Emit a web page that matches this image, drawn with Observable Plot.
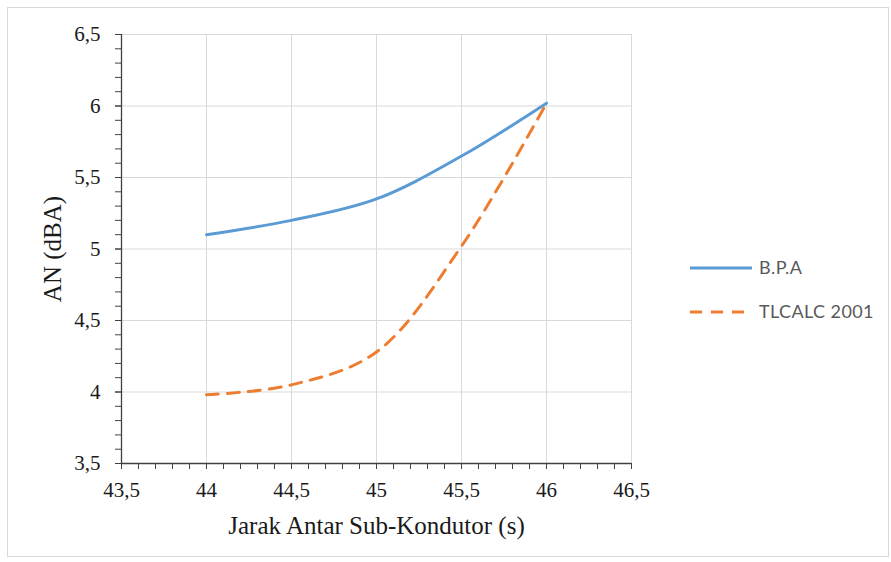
<!DOCTYPE html>
<html>
<head>
<meta charset="utf-8">
<script src="https://cdn.jsdelivr.net/npm/d3@7"></script>
<script src="https://cdn.jsdelivr.net/npm/@observablehq/plot@0.6"></script>
<style>
  body { margin: 0; background: #fff; }
  #wrap { position: relative; width: 891px; height: 562px; overflow: hidden; }
  #frame { position: absolute; left: 7px; top: 7px; width: 882px; height: 550px; border: 1px solid #d9d9d9; box-sizing: border-box; pointer-events: none; }
  #chart svg, #chart svg text { font-family: "Liberation Serif", "Times New Roman", serif !important; }
  #chart svg text { font-size: 21px !important; fill: #1a1a1a; }
  #chart svg g[aria-label="x-axis label"] text,
  #chart svg g[aria-label="y-axis label"] text { font-size: 25px !important; fill: #1a1a1a; }
  #legend { position: absolute; left: 689px; top: 256px; font-family: Lato, "Open Sans", sans-serif; font-size: 18px; letter-spacing: 0.4px; color: #595959; white-space: nowrap; }
  .row { position: relative; height: 44px; }
  .row svg { position: absolute; left: 0; top: 3px; }
  .row span { position: absolute; left: 70px; top: 0px; line-height: 22px; }
</style>
</head>
<body>
<div id="wrap">
  <div id="chart"></div>
  <div id="frame"></div>
  <div id="legend"></div>
</div>
<script>
// ---- data ----
const xValues = [44, 44.5, 45, 45.5, 46];
const bpaValues = [5.10, 5.20, 5.35, 5.65, 6.02];
const tlcalcValues = [3.98, 4.05, 4.28, 5.02, 6.02];
const seriesNames = ["B.P.A", "TLCALC 2001"];
const seriesColors = ["#5B9BD5", "#ED7D31"];
const xMajorTicks = [43.5, 44, 44.5, 45, 45.5, 46, 46.5];
const yMajorTicks = [3.5, 4, 4.5, 5, 5.5, 6, 6.5];
const xMinorTicks = d3.range(435, 466).map(d => d / 10);
const yMinorTicks = d3.range(35, 66).map(d => d / 10);
const xLabel = "Jarak Antar Sub-Kondutor (s)";
const yLabel = "AN (dBA)";

const bpaRows = xValues.map((x, i) => ({x, y: bpaValues[i]}));
const tlRows = xValues.map((x, i) => ({x, y: tlcalcValues[i]}));
const fmt = d => String(d).replace(".", ",");
const axisColor = "#404040";
const serif = "'Liberation Serif', 'Times New Roman', serif";

const chart = Plot.plot({
  width: 891,
  height: 562,
  marginLeft: 121,
  marginRight: 260,
  marginTop: 34,
  marginBottom: 99,
  x: {domain: [43.5, 46.5]},
  y: {domain: [3.5, 6.5]},
  style: {fontSize: "21px", fontFamily: serif, color: "#1a1a1a", background: "transparent"},
  marks: [
    Plot.gridX(xMajorTicks, {stroke: "#d9d9d9", strokeOpacity: 1}),
    Plot.gridY(yMajorTicks, {stroke: "#d9d9d9", strokeOpacity: 1}),
    Plot.axisX(xMinorTicks, {tickSize: 6, tickFormat: () => "", label: null, stroke: axisColor}),
    Plot.axisY(yMinorTicks, {tickSize: 6, tickFormat: () => "", label: null, stroke: axisColor}),
    Plot.axisX(xMajorTicks, {tickSize: 6, tickPadding: 13, tickFormat: fmt, stroke: axisColor,
      fontSize: 21, fontFamily: serif,
      label: xLabel, labelAnchor: "center", labelArrow: "none", labelOffset: 70}),
    Plot.axisY(yMajorTicks, {tickSize: 6, tickPadding: 15, tickFormat: fmt, stroke: axisColor,
      fontSize: 21, fontFamily: serif,
      label: yLabel, labelAnchor: "center", labelArrow: "none", labelOffset: 78}),
    Plot.ruleX([43.5], {stroke: axisColor, strokeWidth: 1.3}),
    Plot.ruleY([3.5], {stroke: axisColor, strokeWidth: 1.3}),
    Plot.line(bpaRows, {x: "x", y: "y", stroke: seriesColors[0], strokeWidth: 3, curve: "catmull-rom"}),
    Plot.line(tlRows, {x: "x", y: "y", stroke: seriesColors[1], strokeWidth: 3, strokeDasharray: "12,9", curve: "catmull-rom"})
  ]
});
document.getElementById("chart").appendChild(chart);

// legend
const legend = document.getElementById("legend");
seriesNames.forEach((name, i) => {
  const row = document.createElement("div");
  row.className = "row";
  const dash = i === 1 ? ' stroke-dasharray="12,9"' : '';
  row.innerHTML = `<svg width="64" height="20"><line x1="1" y1="9" x2="63" y2="9" stroke="${seriesColors[i]}" stroke-width="3"${dash}/></svg><span>${name}</span>`;
  legend.appendChild(row);
});
</script>
</body>
</html>
